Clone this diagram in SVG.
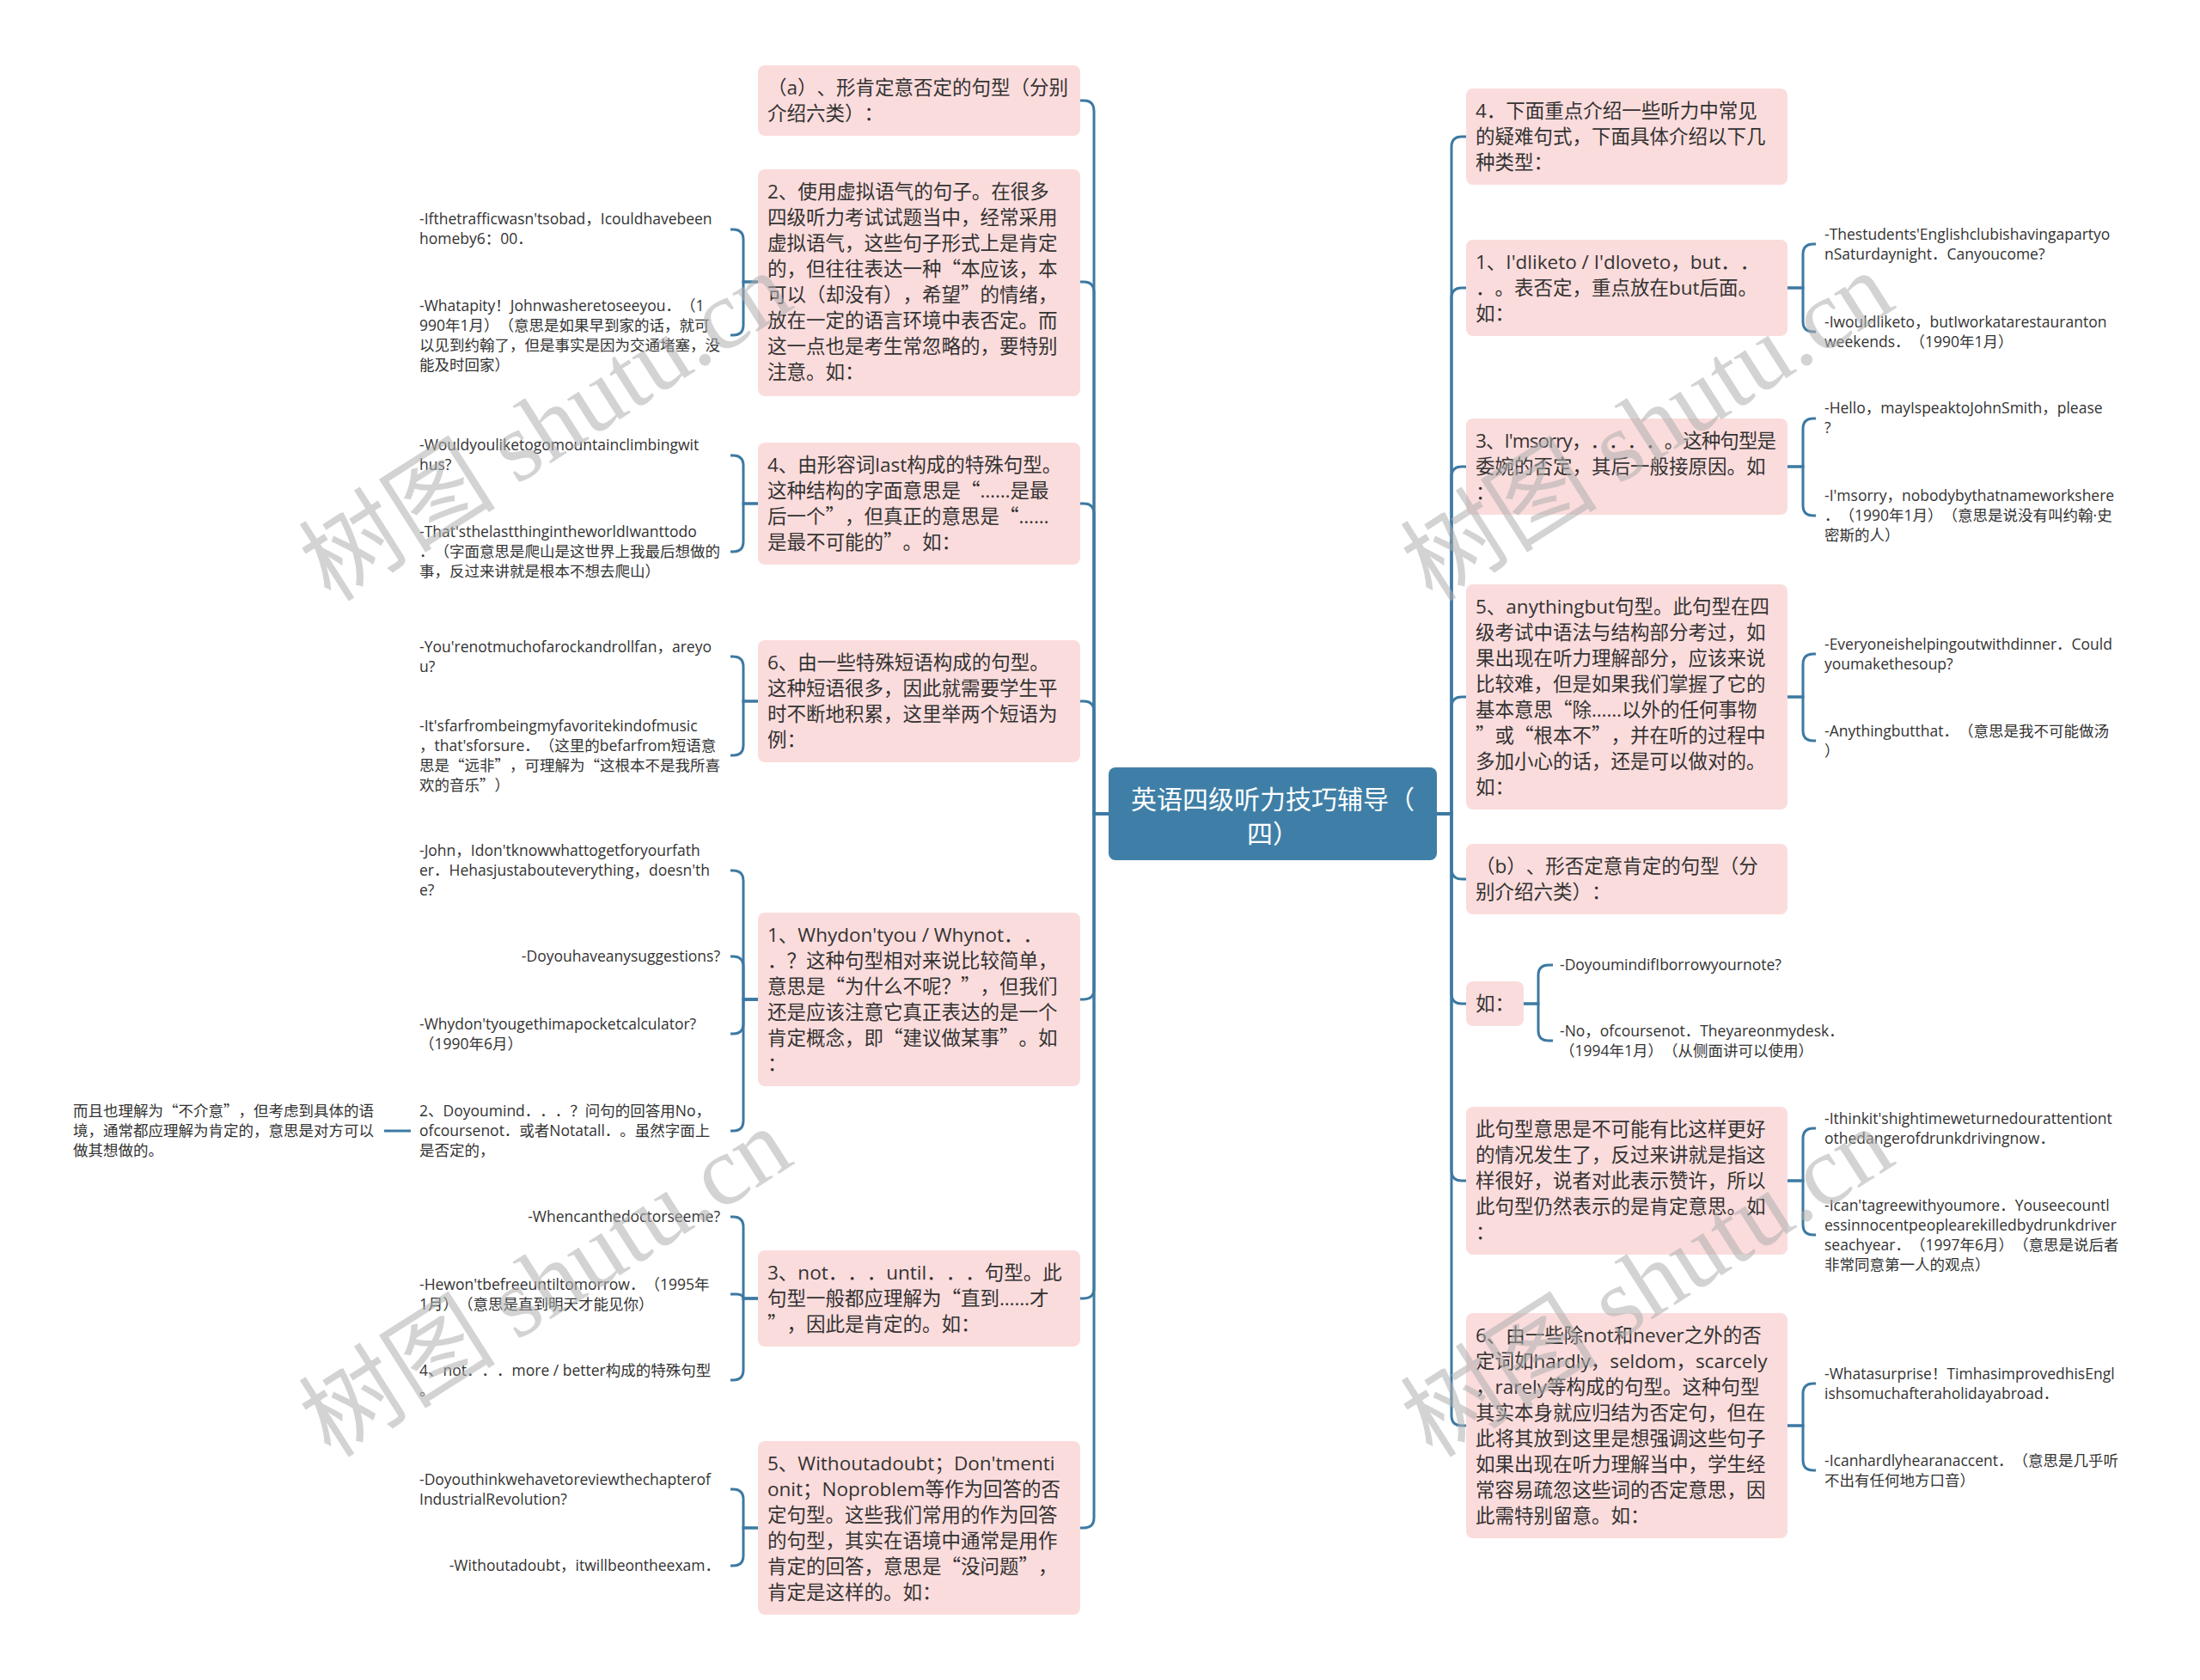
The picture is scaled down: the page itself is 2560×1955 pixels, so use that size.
<svg xmlns="http://www.w3.org/2000/svg" width="2560" height="1955" viewBox="0 0 2560 1955">
<style>
.bg{fill:#ffffff}
.box{fill:#fbdcdc}
text{text-spacing-trim:space-all}
.t{font-family:"Open Sans","Noto Sans CJK SC",sans-serif;font-size:22.5px;fill:#333333}
.c{font-family:"Open Sans","Noto Sans CJK SC",sans-serif;font-size:17.5px;fill:#333333}
.q{font-family:"Noto Sans CJK SC",sans-serif}
.e{text-anchor:end}
.lk{fill:none;stroke:#3d79a2;stroke-width:3}
.root rect{fill:#3f7fa7}
.root text{font-family:"Open Sans","Noto Sans CJK SC",sans-serif;font-size:30px;fill:#ffffff;text-anchor:middle}
.wm{font-family:"Noto Sans CJK SC",sans-serif;font-size:115px;fill:#b0b0b0;opacity:0.55}
.wm tspan.s{font-family:"Liberation Serif",serif}
</style>
<rect class="bg" x="0" y="0" width="2560" height="1955"/>

<g id="connectors">
<path class="lk" d="M1290 947H1273V129Q1273 117 1261 117H1257"/>
<path class="lk" d="M1290 947H1273V340Q1273 328 1261 328H1257"/>
<path class="lk" d="M1290 947H1273V598Q1273 586 1261 586H1257"/>
<path class="lk" d="M1290 947H1273V828Q1273 816 1261 816H1257"/>
<path class="lk" d="M1290 947H1273V1151Q1273 1163 1261 1163H1257"/>
<path class="lk" d="M1290 947H1273V1499Q1273 1511 1261 1511H1257"/>
<path class="lk" d="M1290 947H1273V1766Q1273 1778 1261 1778H1257"/>
<path class="lk" d="M1672 947H1689V171Q1689 159 1701 159H1706"/>
<path class="lk" d="M1672 947H1689V347Q1689 335 1701 335H1706"/>
<path class="lk" d="M1672 947H1689V555Q1689 543 1701 543H1706"/>
<path class="lk" d="M1672 947H1689V823Q1689 811 1701 811H1706"/>
<path class="lk" d="M1672 947H1689V1011Q1689 1023 1701 1023H1706"/>
<path class="lk" d="M1672 947H1689V1156Q1689 1168 1701 1168H1706"/>
<path class="lk" d="M1672 947H1689V1362Q1689 1374 1701 1374H1706"/>
<path class="lk" d="M1672 947H1689V1647Q1689 1659 1701 1659H1706"/>
<path class="lk" d="M882 328H865V279Q865 267 853 267H850"/>
<path class="lk" d="M882 328H865V378Q865 390 853 390H850"/>
<path class="lk" d="M882 586H865V542Q865 530 853 530H850"/>
<path class="lk" d="M882 586H865V630Q865 642 853 642H850"/>
<path class="lk" d="M882 816H865V776Q865 764 853 764H850"/>
<path class="lk" d="M882 816H865V867Q865 879 853 879H850"/>
<path class="lk" d="M882 1163H865V1025Q865 1013 853 1013H850"/>
<path class="lk" d="M882 1163H865V1125Q865 1113 853 1113H850"/>
<path class="lk" d="M882 1163H865V1191Q865 1203 853 1203H850"/>
<path class="lk" d="M882 1163H865V1304Q865 1316 853 1316H850"/>
<path class="lk" d="M478 1316H447"/>
<path class="lk" d="M882 1511H865V1428Q865 1416 853 1416H850"/>
<path class="lk" d="M882 1511H865Q865 1506 857 1506H850"/>
<path class="lk" d="M882 1511H865V1594Q865 1606 853 1606H850"/>
<path class="lk" d="M882 1778H865V1745Q865 1733 853 1733H850"/>
<path class="lk" d="M882 1778H865V1810Q865 1822 853 1822H850"/>
<path class="lk" d="M2080 335H2098V296Q2098 284 2110 284H2113"/>
<path class="lk" d="M2080 335H2098V374Q2098 386 2110 386H2113"/>
<path class="lk" d="M2080 543H2098V499Q2098 487 2110 487H2113"/>
<path class="lk" d="M2080 543H2098V588Q2098 600 2110 600H2113"/>
<path class="lk" d="M2080 811H2098V773Q2098 761 2110 761H2113"/>
<path class="lk" d="M2080 811H2098V850Q2098 862 2110 862H2113"/>
<path class="lk" d="M1773 1168H1790V1135Q1790 1123 1802 1123H1807"/>
<path class="lk" d="M1773 1168H1790V1199Q1790 1211 1802 1211H1807"/>
<path class="lk" d="M2080 1374H2098V1325Q2098 1313 2110 1313H2113"/>
<path class="lk" d="M2080 1374H2098V1425Q2098 1437 2110 1437H2113"/>
<path class="lk" d="M2080 1659H2098V1622Q2098 1610 2110 1610H2113"/>
<path class="lk" d="M2080 1659H2098V1699Q2098 1711 2110 1711H2113"/>
</g>

<g id="root" class="root">
<rect x="1290" y="893" width="382" height="108" rx="8"/>
<text x="1481" y="941"><tspan x="1481">英语四级听力技巧辅导（</tspan><tspan x="1481" dy="40">四）</tspan></text>
</g>

<g id="nA"><rect class="box" x="882" y="76" width="375" height="82" rx="8"/>
<text class="t" x="893" y="110"><tspan x="893">（a）、形肯定意否定的句型（分别</tspan><tspan x="893" dy="30">介绍六类）：</tspan></text></g>

<g id="nB"><rect class="box" x="882" y="197" width="375" height="264" rx="8"/>
<text class="t" x="893" y="231"><tspan x="893">2、使用虚拟语气的句子。在很多</tspan><tspan x="893" dy="30">四级听力考试试题当中，经常采用</tspan><tspan x="893" dy="30">虚拟语气，这些句子形式上是肯定</tspan><tspan x="893" dy="30">的，但往往表达一种<tspan class="q">“</tspan>本应该，本</tspan><tspan x="893" dy="30">可以（却没有），希望<tspan class="q">”</tspan>的情绪，</tspan><tspan x="893" dy="30">放在一定的语言环境中表否定。而</tspan><tspan x="893" dy="30">这一点也是考生常忽略的，要特别</tspan><tspan x="893" dy="30">注意。如：</tspan></text></g>

<g id="nC"><rect class="box" x="882" y="515" width="375" height="142" rx="8"/>
<text class="t" x="893" y="549"><tspan x="893">4、由形容词last构成的特殊句型。</tspan><tspan x="893" dy="30">这种结构的字面意思是<tspan class="q">“</tspan>……是最</tspan><tspan x="893" dy="30">后一个<tspan class="q">”</tspan>，但真正的意思是<tspan class="q">“</tspan>……</tspan><tspan x="893" dy="30">是最不可能的<tspan class="q">”</tspan>。如：</tspan></text></g>

<g id="nD"><rect class="box" x="882" y="745" width="375" height="142" rx="8"/>
<text class="t" x="893" y="779"><tspan x="893">6、由一些特殊短语构成的句型。</tspan><tspan x="893" dy="30">这种短语很多，因此就需要学生平</tspan><tspan x="893" dy="30">时不断地积累，这里举两个短语为</tspan><tspan x="893" dy="30">例：</tspan></text></g>

<g id="nE"><rect class="box" x="882" y="1062" width="375" height="202" rx="8"/>
<text class="t" x="893" y="1096"><tspan x="893">1、Whydon'tyou / Whynot．．</tspan><tspan x="893" dy="30">．？这种句型相对来说比较简单，</tspan><tspan x="893" dy="30">意思是<tspan class="q">“</tspan>为什么不呢？<tspan class="q">”</tspan>，但我们</tspan><tspan x="893" dy="30">还是应该注意它真正表达的是一个</tspan><tspan x="893" dy="30">肯定概念，即<tspan class="q">“</tspan>建议做某事<tspan class="q">”</tspan>。如</tspan><tspan x="893" dy="30">：</tspan></text></g>

<g id="nF"><rect class="box" x="882" y="1455" width="375" height="112" rx="8"/>
<text class="t" x="893" y="1489"><tspan x="893">3、not．．．until．．．句型。此</tspan><tspan x="893" dy="30">句型一般都应理解为<tspan class="q">“</tspan>直到……才</tspan><tspan x="893" dy="30"><tspan class="q">”</tspan>，因此是肯定的。如：</tspan></text></g>

<g id="nG"><rect class="box" x="882" y="1677" width="375" height="202" rx="8"/>
<text class="t" x="893" y="1711"><tspan x="893">5、Withoutadoubt；Don'tmenti</tspan><tspan x="893" dy="30">onit；Noproblem等作为回答的否</tspan><tspan x="893" dy="30">定句型。这些我们常用的作为回答</tspan><tspan x="893" dy="30">的句型，其实在语境中通常是用作</tspan><tspan x="893" dy="30">肯定的回答，意思是<tspan class="q">“</tspan>没问题<tspan class="q">”</tspan>，</tspan><tspan x="893" dy="30">肯定是这样的。如：</tspan></text></g>

<g id="nR1"><rect class="box" x="1706" y="103" width="374" height="112" rx="8"/>
<text class="t" x="1717" y="137"><tspan x="1717">4．下面重点介绍一些听力中常见</tspan><tspan x="1717" dy="30">的疑难句式，下面具体介绍以下几</tspan><tspan x="1717" dy="30">种类型：</tspan></text></g>

<g id="nR2"><rect class="box" x="1706" y="279" width="374" height="112" rx="8"/>
<text class="t" x="1717" y="313"><tspan x="1717">1、I'dliketo / I'dloveto，but．．</tspan><tspan x="1717" dy="30">．。表否定，重点放在but后面。</tspan><tspan x="1717" dy="30">如：</tspan></text></g>

<g id="nR3"><rect class="box" x="1706" y="487" width="374" height="112" rx="8"/>
<text class="t" x="1717" y="521"><tspan x="1717" textLength="350" lengthAdjust="spacing">3、I'msorry，．．．．。这种句型是</tspan><tspan x="1717" dy="30">委婉的否定，其后一般接原因。如</tspan><tspan x="1717" dy="30">：</tspan></text></g>

<g id="nR4"><rect class="box" x="1706" y="680" width="374" height="262" rx="8"/>
<text class="t" x="1717" y="714"><tspan x="1717">5、anythingbut句型。此句型在四</tspan><tspan x="1717" dy="30">级考试中语法与结构部分考过，如</tspan><tspan x="1717" dy="30">果出现在听力理解部分，应该来说</tspan><tspan x="1717" dy="30">比较难，但是如果我们掌握了它的</tspan><tspan x="1717" dy="30">基本意思<tspan class="q">“</tspan>除……以外的任何事物</tspan><tspan x="1717" dy="30"><tspan class="q">”</tspan>或<tspan class="q">“</tspan>根本不<tspan class="q">”</tspan>，并在听的过程中</tspan><tspan x="1717" dy="30">多加小心的话，还是可以做对的。</tspan><tspan x="1717" dy="30">如：</tspan></text></g>

<g id="nR5"><rect class="box" x="1706" y="982" width="374" height="82" rx="8"/>
<text class="t" x="1717" y="1016"><tspan x="1717">（b）、形否定意肯定的句型（分</tspan><tspan x="1717" dy="30">别介绍六类）：</tspan></text></g>

<g id="nR6"><rect class="box" x="1706" y="1142" width="67" height="52" rx="8"/>
<text class="t" x="1717" y="1176">如：</text></g>

<g id="nR7"><rect class="box" x="1706" y="1288" width="374" height="172" rx="8"/>
<text class="t" x="1717" y="1322"><tspan x="1717">此句型意思是不可能有比这样更好</tspan><tspan x="1717" dy="30">的情况发生了，反过来讲就是指这</tspan><tspan x="1717" dy="30">样很好，说者对此表示赞许，所以</tspan><tspan x="1717" dy="30">此句型仍然表示的是肯定意思。如</tspan><tspan x="1717" dy="30">：</tspan></text></g>

<g id="nR8"><rect class="box" x="1706" y="1528" width="374" height="262" rx="8"/>
<text class="t" x="1717" y="1562"><tspan x="1717">6、由一些除not和never之外的否</tspan><tspan x="1717" dy="30">定词如hardly，seldom，scarcely</tspan><tspan x="1717" dy="30">，rarely等构成的句型。这种句型</tspan><tspan x="1717" dy="30">其实本身就应归结为否定句，但在</tspan><tspan x="1717" dy="30">此将其放到这里是想强调这些句子</tspan><tspan x="1717" dy="30">如果出现在听力理解当中，学生经</tspan><tspan x="1717" dy="30">常容易疏忽这些词的否定意思，因</tspan><tspan x="1717" dy="30">此需特别留意。如：</tspan></text></g>

<g id="cB1"><text class="c" x="488" y="261"><tspan x="488">-Ifthetrafficwasn'tsobad，Icouldhavebeen</tspan><tspan x="488" dy="23">homeby6：00．</tspan></text></g>
<g id="cB2"><text class="c" x="488" y="362"><tspan x="488">-Whatapity！Johnwasheretoseeyou．（1</tspan><tspan x="488" dy="23">990年1月）（意思是如果早到家的话，就可</tspan><tspan x="488" dy="23">以见到约翰了，但是事实是因为交通堵塞，没</tspan><tspan x="488" dy="23">能及时回家）</tspan></text></g>
<g id="cC1"><text class="c" x="488" y="524"><tspan x="488">-Wouldyouliketogomountainclimbingwit</tspan><tspan x="488" dy="23">hus?</tspan></text></g>
<g id="cC2"><text class="c" x="488" y="625"><tspan x="488">-That'sthelastthingintheworldIwanttodo</tspan><tspan x="488" dy="23">．（字面意思是爬山是这世界上我最后想做的</tspan><tspan x="488" dy="23">事，反过来讲就是根本不想去爬山）</tspan></text></g>
<g id="cD1"><text class="c" x="488" y="759"><tspan x="488">-You'renotmuchofarockandrollfan，areyo</tspan><tspan x="488" dy="23">u?</tspan></text></g>
<g id="cD2"><text class="c" x="488" y="851"><tspan x="488">-It'sfarfrombeingmyfavoritekindofmusic</tspan><tspan x="488" dy="23">，that'sforsure．（这里的befarfrom短语意</tspan><tspan x="488" dy="23">思是<tspan class="q">“</tspan>远非<tspan class="q">”</tspan>，可理解为<tspan class="q">“</tspan>这根本不是我所喜</tspan><tspan x="488" dy="23">欢的音乐<tspan class="q">”</tspan>）</tspan></text></g>
<g id="cE1"><text class="c" x="488" y="996"><tspan x="488">-John，Idon'tknowwhattogetforyourfath</tspan><tspan x="488" dy="23">er．Hehasjustabouteverything，doesn'th</tspan><tspan x="488" dy="23">e?</tspan></text></g>
<g id="cE2"><text class="c e" x="838" y="1119">-Doyouhaveanysuggestions?</text></g>
<g id="cE3"><text class="c" x="488" y="1198"><tspan x="488">-Whydon'tyougethimapocketcalculator?</tspan><tspan x="488" dy="23">（1990年6月）</tspan></text></g>
<g id="cE4"><text class="c" x="488" y="1299"><tspan x="488">2、Doyoumind．．．？问句的回答用No，</tspan><tspan x="488" dy="23">ofcoursenot．或者Notatall．。虽然字面上</tspan><tspan x="488" dy="23">是否定的，</tspan></text></g>
<g id="cE4a"><text class="c" x="85" y="1299"><tspan x="85">而且也理解为<tspan class="q">“</tspan>不介意<tspan class="q">”</tspan>，但考虑到具体的语</tspan><tspan x="85" dy="23">境，通常都应理解为肯定的，意思是对方可以</tspan><tspan x="85" dy="23">做其想做的。</tspan></text></g>
<g id="cF1"><text class="c e" x="838" y="1422">-Whencanthedoctorseeme?</text></g>
<g id="cF2"><text class="c" x="488" y="1501"><tspan x="488">-Hewon'tbefreeuntiltomorrow．（1995年</tspan><tspan x="488" dy="23">1月）（意思是直到明天才能见你）</tspan></text></g>
<g id="cF3"><text class="c" x="488" y="1601"><tspan x="488">4、not．．．more / better构成的特殊句型</tspan><tspan x="488" dy="23">。</tspan></text></g>
<g id="cG1"><text class="c" x="488" y="1728"><tspan x="488">-Doyouthinkwehavetoreviewthechapterof</tspan><tspan x="488" dy="23">IndustrialRevolution?</tspan></text></g>
<g id="cG2"><text class="c e" x="838" y="1828">-Withoutadoubt，itwillbeontheexam．</text></g>

<g id="cR2a"><text class="c" x="2123" y="279"><tspan x="2123">-Thestudents'Englishclubishavingapartyo</tspan><tspan x="2123" dy="23">nSaturdaynight．Canyoucome?</tspan></text></g>
<g id="cR2b"><text class="c" x="2123" y="381"><tspan x="2123">-Iwouldliketo，butIworkatarestauranton</tspan><tspan x="2123" dy="23">weekends．（1990年1月）</tspan></text></g>
<g id="cR3a"><text class="c" x="2123" y="481"><tspan x="2123">-Hello，mayIspeaktoJohnSmith，please</tspan><tspan x="2123" dy="23">?</tspan></text></g>
<g id="cR3b"><text class="c" x="2123" y="583"><tspan x="2123">-I'msorry，nobodybythatnameworkshere</tspan><tspan x="2123" dy="23">．（1990年1月）（意思是说没有叫约翰·史</tspan><tspan x="2123" dy="23">密斯的人）</tspan></text></g>
<g id="cR4a"><text class="c" x="2123" y="756"><tspan x="2123">-Everyoneishelpingoutwithdinner．Could</tspan><tspan x="2123" dy="23">youmakethesoup?</tspan></text></g>
<g id="cR4b"><text class="c" x="2123" y="857"><tspan x="2123">-Anythingbutthat．（意思是我不可能做汤</tspan><tspan x="2123" dy="23">）</tspan></text></g>
<g id="cR6a"><text class="c" x="1815" y="1129">-DoyoumindifIborrowyournote?</text></g>
<g id="cR6b"><text class="c" x="1815" y="1206"><tspan x="1815">-No，ofcoursenot．Theyareonmydesk．</tspan><tspan x="1815" dy="23">（1994年1月）（从侧面讲可以使用）</tspan></text></g>
<g id="cR7a"><text class="c" x="2123" y="1308"><tspan x="2123">-Ithinkit'shightimeweturnedourattentiont</tspan><tspan x="2123" dy="23">othedangerofdrunkdrivingnow．</tspan></text></g>
<g id="cR7b"><text class="c" x="2123" y="1409"><tspan x="2123">-Ican'tagreewithyoumore．Youseecountl</tspan><tspan x="2123" dy="23">essinnocentpeoplearekilledbydrunkdriver</tspan><tspan x="2123" dy="23">seachyear．（1997年6月）（意思是说后者</tspan><tspan x="2123" dy="23">非常同意第一人的观点）</tspan></text></g>
<g id="cR8a"><text class="c" x="2123" y="1605"><tspan x="2123">-Whatasurprise！TimhasimprovedhisEngl</tspan><tspan x="2123" dy="23">ishsomuchafteraholidayabroad．</tspan></text></g>
<g id="cR8b"><text class="c" x="2123" y="1706"><tspan x="2123">-Icanhardlyhearanaccent．（意思是几乎听</tspan><tspan x="2123" dy="23">不出有任何地方口音）</tspan></text></g>

<g id="watermarks">
<text class="wm" transform="translate(385 702) rotate(-32.5)">树图 <tspan class="s">shutu.cn</tspan></text>
<text class="wm" transform="translate(1667 702) rotate(-32.5)">树图 <tspan class="s">shutu.cn</tspan></text>
<text class="wm" transform="translate(385 1698) rotate(-32.5)">树图 <tspan class="s">shutu.cn</tspan></text>
<text class="wm" transform="translate(1667 1698) rotate(-32.5)">树图 <tspan class="s">shutu.cn</tspan></text>
</g>
</svg>
